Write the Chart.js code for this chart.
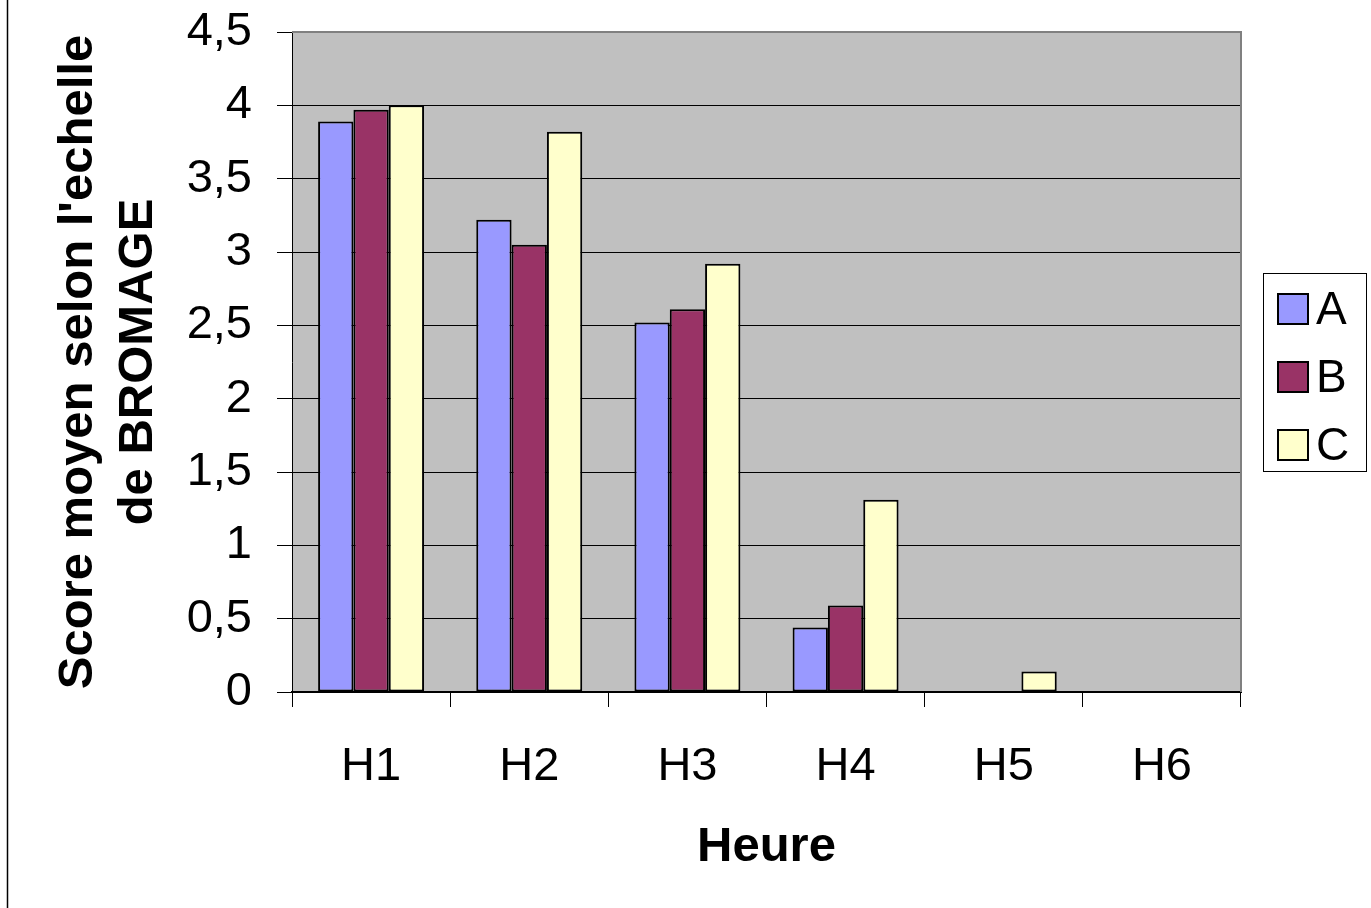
<!DOCTYPE html>
<html>
<head>
<meta charset="utf-8">
<script src="https://cdn.jsdelivr.net/npm/chart.js@4/dist/chart.umd.min.js"></script>
<style>
  html, body { margin: 0; padding: 0; background: #fff; }
  canvas { display: block; }
</style>
</head>
<body>
<canvas id="c" width="1371" height="908"></canvas>
<script>
// Heures de mesure
const categories = ['H1', 'H2', 'H3', 'H4', 'H5', 'H6'];
// Score moyen par groupe
const serieA = [3.89, 3.22, 2.52, 0.44, 0, 0];
const serieB = [3.97, 3.05, 2.61, 0.59, 0, 0];
const serieC = [4.00, 3.82, 2.92, 1.31, 0.14, 0];
const seriesNames = ['A', 'B', 'C'];
const yTickLabels = ['0', '0,5', '1', '1,5', '2', '2,5', '3', '3,5', '4', '4,5'];

const FONT = '"Liberation Sans", Arial, sans-serif';

// Grey plot background, gray top/right frame and the thin page rule on the left
const plotFrame = {
  id: 'plotFrame',
  beforeDraw(chart) {
    const { ctx, chartArea: a } = chart;
    ctx.save();
    ctx.fillStyle = '#C0C0C0';
    ctx.fillRect(a.left, a.top, a.right - a.left, a.bottom - a.top);
    ctx.strokeStyle = '#000';
    ctx.lineWidth = 1.5;
    ctx.beginPath();
    ctx.moveTo(7.5, 0);
    ctx.lineTo(7.5, chart.height);
    ctx.stroke();
    ctx.restore();
  },
  afterDraw(chart) {
    const { ctx, chartArea: a } = chart;
    ctx.save();
    ctx.strokeStyle = '#808080';
    ctx.lineWidth = 2;
    ctx.beginPath();
    ctx.moveTo(a.left, a.top);
    ctx.lineTo(a.right, a.top);
    ctx.lineTo(a.right, a.bottom);
    ctx.stroke();
    ctx.restore();
  }
};

// Boxed legend to the right of the plot
const boxedLegend = {
  id: 'boxedLegend',
  afterDraw(chart) {
    const { ctx } = chart;
    const x0 = 1263.5, y0 = 273.5, w = 103, h = 198;
    ctx.save();
    ctx.fillStyle = '#fff';
    ctx.fillRect(x0, y0, w, h);
    ctx.strokeStyle = '#000';
    ctx.lineWidth = 1;
    ctx.strokeRect(x0, y0, w, h);
    ctx.font = '46px ' + FONT;
    ctx.textBaseline = 'middle';
    ctx.textAlign = 'left';
    chart.data.datasets.forEach((ds, i) => {
      const cy = 309 + i * 68;
      ctx.fillStyle = ds.backgroundColor;
      ctx.fillRect(1278, cy - 15, 30, 30);
      ctx.strokeStyle = '#000';
      ctx.lineWidth = 2;
      ctx.strokeRect(1278, cy - 15, 30, 30);
      ctx.fillStyle = '#000';
      ctx.fillText(ds.label, 1316, cy + 2);
    });
    ctx.restore();
  }
};

new Chart(document.getElementById('c'), {
  type: 'bar',
  data: {
    labels: categories,
    datasets: [
      { label: seriesNames[0], data: serieA, backgroundColor: '#9999FF' },
      { label: seriesNames[1], data: serieB, backgroundColor: '#993366' },
      { label: seriesNames[2], data: serieC, backgroundColor: '#FFFFCC' }
    ]
  },
  options: {
    responsive: false,
    devicePixelRatio: 1,
    animation: false,
    layout: { padding: { left: 0, top: 32, right: 130, bottom: 0 } },
    datasets: {
      bar: {
        categoryPercentage: 0.67,
        barPercentage: 1,
        borderColor: '#000',
        borderWidth: 2,
        borderSkipped: false
      }
    },
    plugins: {
      legend: { display: false },
      tooltip: { enabled: false }
    },
    scales: {
      x: {
        afterFit(scale) {
          scale.height = 216;
          scale.paddingLeft = 0;
          scale.paddingRight = 0;
        },
        grid: {
          display: true,
          drawOnChartArea: false,
          drawTicks: true,
          tickLength: 15,
          color: '#000',
          offset: true
        },
        border: { display: true, color: '#000', width: 2 },
        ticks: {
          font: { family: FONT, size: 47 },
          color: '#000',
          padding: 32,
          maxRotation: 0
        },
        title: {
          display: true,
          text: 'Heure',
          font: { family: FONT, size: 49, weight: 'bold', lineHeight: 1.25 },
          color: '#000',
          padding: { top: 0, bottom: 30 }
        }
      },
      y: {
        min: 0,
        max: 4.5,
        afterFit(scale) {
          scale.width = 292;
          scale.paddingTop = 0;
          scale.paddingBottom = 0;
        },
        grid: {
          color: '#000',
          lineWidth: 1,
          tickLength: 15
        },
        border: { display: true, color: '#000', width: 1 },
        ticks: {
          stepSize: 0.5,
          font: { family: FONT, size: 47 },
          color: '#000',
          padding: 25,
          callback: (v, i) => yTickLabels[i]
        },
        title: {
          display: true,
          text: ["Score moyen selon l'echelle", 'de BROMAGE'],
          font: { family: FONT, size: 49, weight: 'bold', lineHeight: 1.22 },
          color: '#000',
          padding: { top: 49, bottom: 0 }
        }
      }
    }
  },
  plugins: [plotFrame, boxedLegend]
});
</script>
</body>
</html>
